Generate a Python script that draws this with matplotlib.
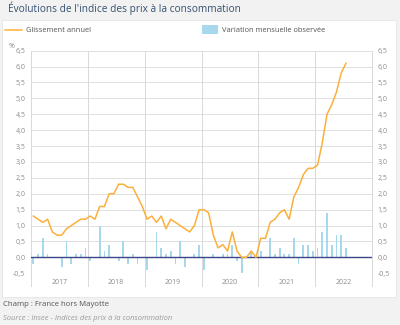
import numpy as np
import matplotlib.pyplot as plt
from matplotlib.patches import Rectangle

plt.rcParams['font.family'] = ['Open Sans', 'DejaVu Sans']

years = ['2017', '2018', '2019', '2020', '2021', '2022']

# glissement annuel (%), janvier 2017 -> juillet 2022
yoy = [1.3, 1.2, 1.1, 1.2, 0.8, 0.7, 0.7, 0.9, 1.0, 1.1, 1.2, 1.2,
       1.3, 1.2, 1.6, 1.6, 2.0, 2.0, 2.3, 2.3, 2.2, 2.2, 1.9, 1.6,
       1.2, 1.3, 1.1, 1.3, 0.9, 1.2, 1.1, 1.0, 0.9, 0.8, 1.0, 1.5,
       1.5, 1.4, 0.7, 0.3, 0.4, 0.2, 0.8, 0.2, 0.0, 0.0, 0.2, 0.0,
       0.6, 0.6, 1.1, 1.2, 1.4, 1.5, 1.2, 1.9, 2.2, 2.6, 2.8, 2.8,
       2.9, 3.6, 4.5, 4.8, 5.2, 5.8, 6.1]

# variation mensuelle observee (%)
mom = [-0.2, 0.1, 0.6, 0.1, 0.0, 0.0, -0.3, 0.5, -0.2, 0.1, 0.1, 0.3,
       -0.1, 0.0, 1.0, 0.2, 0.4, 0.0, -0.1, 0.5, -0.2, 0.1, -0.2, 0.0,
       -0.4, 0.0, 0.8, 0.3, 0.1, 0.2, -0.2, 0.5, -0.3, 0.0, 0.1, 0.4,
       -0.4, 0.0, 0.1, 0.0, 0.1, 0.1, 0.4, -0.1, -0.5, 0.0, 0.2, 0.0,
       0.2, 0.0, 0.6, 0.1, 0.3, 0.1, 0.1, 0.6, -0.2, 0.4, 0.4, 0.2,
       0.3, 0.8, 1.4, 0.4, 0.7, 0.7, 0.3]

yticks = np.arange(-0.5, 6.51, 0.5)
ytick_labels = [('%.1f' % v).replace('.', ',') for v in yticks]

orange = '#fbb03b'
blue = '#a7d8ec'
grey_txt = '#8c8c8c'

fig = plt.figure(figsize=(4, 3.25), dpi=100, facecolor='#f2f2f2')
fig.patches.append(Rectangle((0.006, 1 - 297 / 325), 0.984, (297 - 20) / 325,
                             transform=fig.transFigure, facecolor='white',
                             edgecolor='#e6e6e6', lw=0.6, zorder=-10))

fig.text(0.02, 1 - 8 / 325, "Évolutions de l'indice des prix à la consommation",
         fontsize=7.3, color='#34506f', va='center')

ax = fig.add_axes([31 / 400, 1 - 273.3 / 325, (372 - 31) / 400, (273.3 - 50.6) / 325])
ax.set_facecolor('none')
x = np.arange(len(yoy)) + 0.5
ax.bar(x, mom, width=0.38, color=blue, zorder=2)
ax.plot(x, yoy, color=orange, lw=1.1, zorder=4)
ax.axhline(0, color='#3c4585', lw=1.0, zorder=3)

ax.set_xlim(0, 72)
ax.set_ylim(-0.5, 6.5)
ax.set_yticks(yticks)
ax.set_yticklabels(ytick_labels)
ax.tick_params(axis='y', length=0, labelsize=5, labelcolor=grey_txt, pad=4,
               labelright=True)
for y in yticks:
    ax.axhline(y, color='#e0e0e0', lw=0.7, zorder=1)
for k in range(7):
    ax.axvline(12 * k, ymin=-0.055, ymax=1, color='#d9d9d9', lw=0.7,
               clip_on=False, zorder=1)
ax.set_xticks(np.arange(6) * 12 + 6)
ax.set_xticklabels(years)
ax.tick_params(axis='x', length=0, labelsize=5, labelcolor=grey_txt, pad=4)
for s in ax.spines.values():
    s.set_visible(False)

fig.text(9 / 400, 1 - 46 / 325, '%', fontsize=5, color=grey_txt, va='center')

# legende
fig.lines.append(plt.Line2D([5 / 400, 22 / 400], [1 - 30 / 325, 1 - 30 / 325],
                            transform=fig.transFigure, color=orange, lw=1.1))
fig.text(26 / 400, 1 - 30 / 325, 'Glissement annuel', fontsize=5.4,
         color='#555555', va='center')
fig.patches.append(Rectangle((202 / 400, 1 - 34 / 325), 16 / 400, 9 / 325,
                             transform=fig.transFigure, facecolor=blue,
                             edgecolor='none'))
fig.text(222 / 400, 1 - 30 / 325, 'Variation mensuelle observée', fontsize=5.4,
         color='#555555', va='center')

fig.text(3 / 400, 1 - 305 / 325, 'Champ : France hors Mayotte', fontsize=5.6,
         color='#555555', va='center')
fig.text(3 / 400, 1 - 318 / 325, 'Source : Insee - Indices des prix à la consommation',
         fontsize=5.4, color='#9a9a9a', style='italic', va='center')

fig.savefig('out.png', dpi=100, facecolor=fig.get_facecolor())
